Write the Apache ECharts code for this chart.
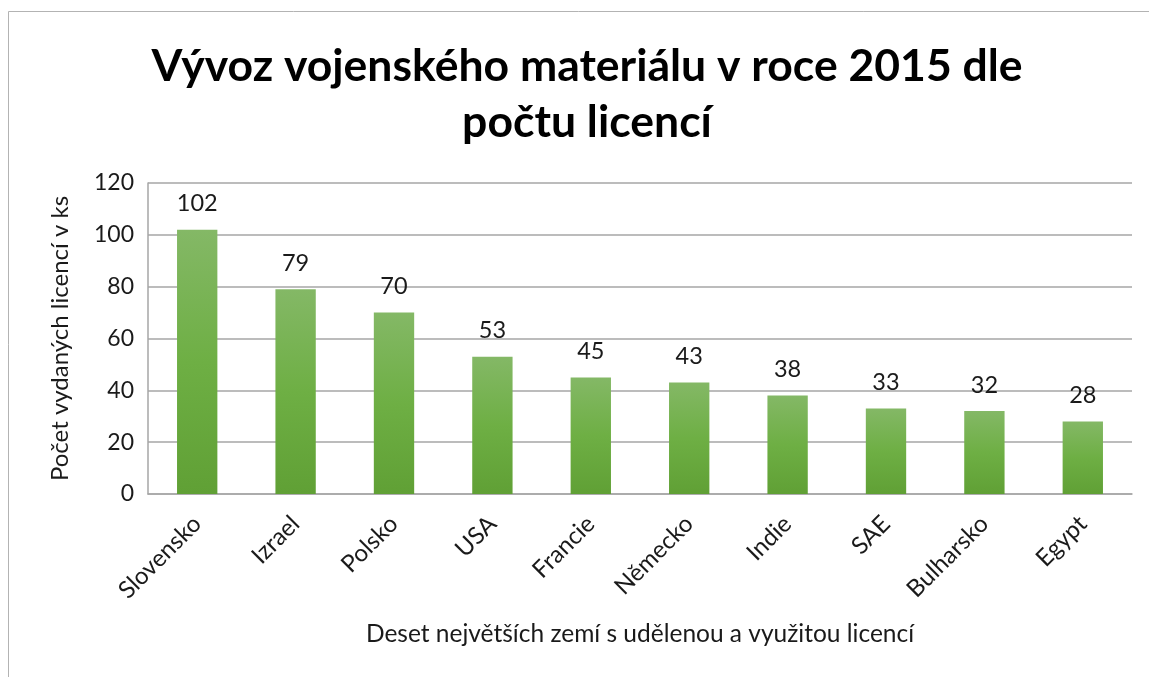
<!DOCTYPE html>
<html>
<head>
<meta charset="utf-8">
<script src="https://cdn.jsdelivr.net/npm/echarts@6/dist/echarts.min.js"></script>
<style>
html, body { margin: 0; padding: 0; background: #fff; }
#chart { width: 1149px; height: 677px; }
</style>
</head>
<body>
<div id="chart"></div>
<script>
var zeme = ['Slovensko', 'Izrael', 'Polsko', 'USA', 'Francie', 'Německo', 'Indie', 'SAE', 'Bulharsko', 'Egypt'];
var pocetLicenci = [102, 79, 70, 53, 45, 43, 38, 33, 32, 28];

var chartDom = document.getElementById('chart');
var myChart = echarts.init(chartDom);
var pismo = 'Lato, "Open Sans", sans-serif';

var option = {
    animation: false,
    textStyle: { fontFamily: pismo },
    title: {
        text: 'Vývoz vojenského materiálu v roce 2015 dle\npočtu licencí',
        left: 582,
        top: 34,
        textAlign: 'center',
        textStyle: {
            fontFamily: pismo,
            fontSize: 44.5,
            fontWeight: 'bold',
            color: '#000000',
            lineHeight: 56
        }
    },
    graphic: [
        { type: 'line', shape: { x1: 8.5, y1: 11.5, x2: 8.5, y2: 677 }, style: { stroke: '#b3b3b3', lineWidth: 1 } },
        { type: 'line', shape: { x1: 8.5, y1: 11.5, x2: 1149, y2: 11.5 }, style: { stroke: '#b3b3b3', lineWidth: 1 } }
    ],
    grid: {
        left: 148,
        right: 17,
        top: 183,
        bottom: 183,
        containLabel: false
    },
    xAxis: {
        type: 'category',
        data: zeme,
        name: 'Deset největších zemí s udělenou a využitou licencí',
        nameLocation: 'middle',
        nameGap: 128,
        nameTextStyle: { fontSize: 24.5, color: '#1a1a1a' },
        axisTick: { show: false },
        axisLine: { lineStyle: { color: '#a6a6a6', width: 1.5 } },
        axisLabel: {
            rotate: 45,
            fontSize: 24,
            color: '#1a1a1a',
            margin: 26,
            interval: 0
        }
    },
    yAxis: {
        type: 'value',
        min: 0,
        max: 120,
        interval: 20,
        name: 'Počet vydaných licencí v ks',
        nameLocation: 'middle',
        nameRotate: 90,
        nameGap: 76,
        nameTextStyle: { fontSize: 24, color: '#1a1a1a' },
        axisLine: { show: true, lineStyle: { color: '#a6a6a6', width: 1.5 } },
        axisTick: { show: false },
        splitLine: { lineStyle: { color: '#a6a6a6', width: 1.5 } },
        axisLabel: { fontSize: 23, color: '#1a1a1a', margin: 14 }
    },
    series: [{
        type: 'bar',
        data: pocetLicenci,
        barWidth: '41%',
        itemStyle: {
            color: new echarts.graphic.LinearGradient(0, 0, 0, 1, [
                { offset: 0, color: '#84b866' },
                { offset: 0.5, color: '#6eaf44' },
                { offset: 1, color: '#60a035' }
            ])
        },
        label: {
            show: true,
            position: 'top',
            distance: 14,
            fontSize: 23.5,
            color: '#1a1a1a'
        }
    }]
};
myChart.setOption(option);
</script>
</body>
</html>
